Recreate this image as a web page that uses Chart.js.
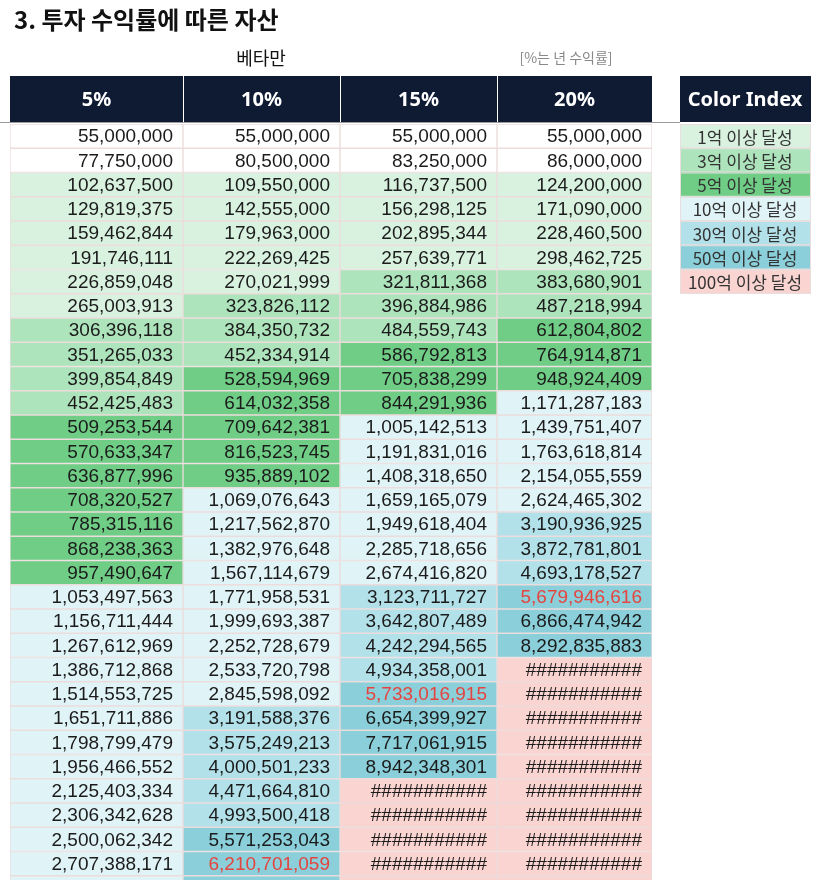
<!DOCTYPE html>
<html><head><meta charset="utf-8">
<script src="https://cdn.jsdelivr.net/npm/chart.js@4"></script>
<style>
html,body{margin:0;padding:0;background:#fff;overflow:hidden;width:827px;height:880px}
#wrap{position:relative;width:827px;height:900px}
</style></head>
<body><div id="wrap"><canvas id="c"></canvas></div>
<script>
const columns = ['5%', '10%', '15%', '20%'];
const columnEdges = [0, 173, 330, 487, 642];
const rate5 = [55000000,77750000,102637500,129819375,159462844,191746111,226859048,265003913,306396118,351265033,399854849,452425483,509253544,570633347,636877996,708320527,785315116,868238363,957490647,1053497563,1156711444,1267612969,1386712868,1514553725,1651711886,1798799479,1956466552,2125403334,2306342628,2500062342,2707388171,2862757580];
const rate10 = [55000000,80500000,109550000,142555000,179963000,222269425,270021999,323826112,384350732,452334914,528594969,614032358,709642381,816523745,935889102,1069076643,1217562870,1382976648,1567114679,1771958531,1999693387,2252728679,2533720798,2845598092,3191588376,3575249213,4000501233,4471664810,4993500418,5571253043,6210701059,6851771165];
const rate15 = [55000000,83250000,116737500,156298125,202895344,257639771,321811368,396884986,484559743,586792813,705838299,844291936,1005142513,1191831016,1408318650,1659165079,1949618404,2285718656,2674416820,3123711727,3642807489,4242294565,4934358001,5733016915,6654399927,7717061915,8942348301,10303700546,11869255628,13669643972,15740090568,18121104153];
const rate20 = [55000000,86000000,124200000,171090000,228460500,298462725,383680901,487218994,612804802,764914871,948924409,1171287183,1439751407,1763618814,2154055559,2624465302,3190936925,3872781801,4693178527,5679946616,6866474942,8292835883,10003403060,12056083672,14519300406,17475160487,21022192585,25278631102,30386357322,36515628786,43870754543,52696905452];
const redFlags = [[], [30], [23], [19]];
const legendLabels = ['1억 이상 달성','3억 이상 달성','5억 이상 달성','10억 이상 달성','30억 이상 달성','50억 이상 달성','100억 이상 달성'];
const legendThresholds = [1e8, 3e8, 5e8, 1e9, 3e9, 5e9, 1e10];
const legendColors = ['#d9f2e0','#aee4bc','#6fcd86','#e0f3f6','#b3e1e9','#8acfd9','#f9d4d0'];
const series = [rate5, rate10, rate15, rate20];
const rowLabels = rate5.map((_, i) => 'r' + (i + 1));

function cellColor(v) {
  let c = '#ffffff';
  legendThresholds.forEach((t, k) => { if (v >= t) c = legendColors[k]; });
  return c;
}
function fmt(v) { return v >= 1e10 ? '###########' : v.toLocaleString('en-US'); }

const datasets = series.map((vals, j) => ({
  label: columns[j],
  data: vals.map(() => [columnEdges[j], columnEdges[j + 1]]),
  backgroundColor: vals.map(cellColor),
  borderColor: '#ecdcdc',
  borderWidth: 1,
  borderSkipped: false,
  barPercentage: 1,
  categoryPercentage: 1,
  grouped: false
}));

const deco = {
  id: 'deco',
  afterDatasetsDraw(chart) {
    const ctx = chart.ctx, x = chart.scales.x, y = chart.scales.y;
    const px = j => x.getPixelForValue(columnEdges[j]);
    ctx.save();
    ctx.textBaseline = 'middle';
    ctx.font = '19px "Liberation Sans", Arial, sans-serif';
    ctx.textAlign = 'right';
    series.forEach((vals, j) => {
      const xr = px(j + 1) - 10;
      vals.forEach((v, i) => {
        ctx.fillStyle = redFlags[j].includes(i) ? '#e5453f' : '#1b1b1b';
        ctx.fillText(fmt(v), xr, y.getPixelForValue(i) + 1);
      });
    });
    ctx.textAlign = 'left';
    ctx.fillStyle = '#111';
    ctx.font = 'bold 24px "Noto Sans CJK KR", sans-serif';
    ctx.fillText('3. 투자 수익률에 따른 자산', 14, 20);
    ctx.font = '18px "Noto Sans CJK KR", sans-serif';
    ctx.textAlign = 'center';
    ctx.fillText('베타만', 261, 58);
    ctx.font = '14px "Noto Sans CJK KR", sans-serif';
    ctx.fillStyle = '#888';
    ctx.fillText('[%는 년 수익률]', 566, 58);
    ctx.fillStyle = '#0f1a33';
    ctx.fillRect(px(0), 76, px(4) - px(0), 46);
    ctx.fillRect(680, 76, 131, 46);
    ctx.strokeStyle = '#ffffff';
    ctx.lineWidth = 1;
    ctx.fillStyle = '#fff';
    ctx.font = 'bold 20px "Noto Sans", sans-serif';
    columns.forEach((c, j) => {
      if (j > 0) { ctx.beginPath(); ctx.moveTo(px(j) + 0.5, 76); ctx.lineTo(px(j) + 0.5, 122); ctx.stroke(); }
      ctx.fillText(c, (px(j) + px(j + 1)) / 2, 100);
    });
    ctx.fillText('Color Index', 745, 100);
    ctx.strokeStyle = '#9a9a9a';
    ctx.beginPath(); ctx.moveTo(0, 122.5); ctx.lineTo(680, 122.5); ctx.stroke();
    ctx.font = '17px "Noto Sans CJK KR", sans-serif';
    const rh = y.getPixelForValue(1) - y.getPixelForValue(0);
    legendLabels.forEach((l, k) => {
      const yc = y.getPixelForValue(k);
      ctx.fillStyle = legendColors[k];
      ctx.fillRect(680, yc - rh / 2, 131, rh);
      ctx.strokeStyle = '#e8dede';
      ctx.strokeRect(680.5, yc - rh / 2 + 0.5, 130, rh - 1);
      ctx.fillStyle = '#333';
      ctx.fillText(l, 745, yc + 1);
    });
    ctx.restore();
  }
};

new Chart(document.getElementById('c'), {
  type: 'bar',
  data: { labels: rowLabels, datasets },
  options: {
    indexAxis: 'y',
    responsive: true,
    maintainAspectRatio: false,
    animation: false,
    layout: { padding: { left: 10, right: 175, top: 124, bottom: 0 } },
    plugins: { legend: { display: false }, tooltip: { enabled: false } },
    scales: {
      x: { type: 'linear', min: 0, max: 642, display: false },
      y: { display: false, offset: true }
    }
  },
  plugins: [deco]
});
</script></body></html>
